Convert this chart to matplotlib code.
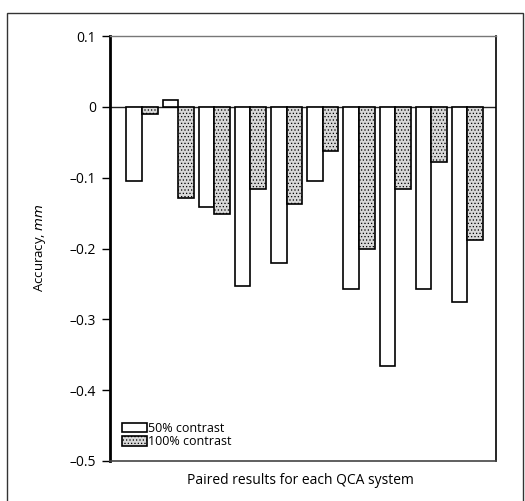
import matplotlib.pyplot as plt
import numpy as np
from matplotlib.patches import Rectangle

plt.rcParams["font.family"] = ["Open Sans", "DejaVu Sans"]
plt.rcParams["hatch.color"] = "#666666"
plt.rcParams["hatch.linewidth"] = 0.5

# paired results for each QCA system (10 systems)
contrast_50 = [-0.105, 0.01, -0.142, -0.253, -0.221, -0.105, -0.257, -0.366, -0.257, -0.275]
contrast_100 = [-0.01, -0.128, -0.151, -0.116, -0.137, -0.063, -0.200, -0.116, -0.078, -0.188]
yticks = [0.1, 0, -0.1, -0.2, -0.3, -0.4, -0.5]
ytick_labels = ["0.1", "0", "\u20130.1", "\u20130.2", "\u20130.3", "\u20130.4", "\u20130.5"]
series_labels = ["50% contrast", "100% contrast"]


def main():
    fig = plt.figure(figsize=(5.25, 5.01), dpi=100)
    ax = fig.add_axes([110 / 525, 1 - 461 / 501, 386 / 525, 425 / 501])

    # outer frame of the figure box
    fig.patches.append(
        Rectangle((7 / 525, -0.05), 516 / 525, 1.05 - 13 / 501,
                  transform=fig.transFigure, fill=False, edgecolor="#333333", lw=1.0)
    )

    x = np.arange(len(contrast_50))
    w = 0.43
    ax.bar(x - w / 2, contrast_50, w, color="white", edgecolor="black",
           linewidth=1.2, label=series_labels[0], zorder=3)
    ax.bar(x + w / 2, contrast_100, w, color="#d8d8d8", edgecolor="black",
           linewidth=1.2, hatch=".....", label=series_labels[1], zorder=3)

    ax.axhline(0, color="#222222", lw=1.0, zorder=2)

    ax.set_xlim(-0.885, 9.79)
    ax.set_ylim(-0.5, 0.1)
    ax.set_xticks([])
    ax.set_yticks(yticks)
    ax.set_yticklabels(ytick_labels, fontsize=10)
    ax.tick_params(axis="y", direction="out", length=6, width=1, pad=4)

    ax.spines["left"].set_linewidth(2.0)
    ax.spines["top"].set_color("#777777")
    ax.spines["top"].set_linewidth(1.0)
    ax.spines["right"].set_linewidth(1.2)
    ax.spines["bottom"].set_color("#444444")
    ax.spines["bottom"].set_linewidth(1.2)

    fig.text(40 / 525, 0.505, "Accuracy, $\\it{mm}$", rotation=90,
             ha="center", va="center", fontsize=9.5)
    fig.text(300 / 525, 1 - 481 / 501, "Paired results for each QCA system",
             ha="center", va="center", fontsize=10)

    ax.legend(loc="lower left", bbox_to_anchor=(0.03, 0.03), frameon=False,
              fontsize=9, handlelength=2.0, handleheight=0.8,
              handletextpad=0.15, labelspacing=0.05, borderpad=0,
              borderaxespad=0)

    fig.savefig("out.png", dpi=100)


if __name__ == "__main__":
    main()
